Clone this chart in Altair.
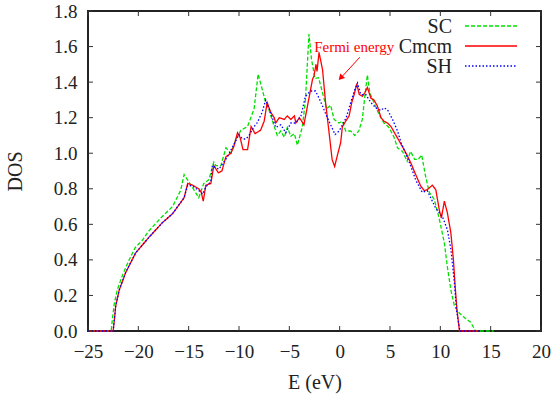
import altair as alt
import pandas as pd

# ---- data ----
sc_x = [-25, -22.7, -22.55, -22.4, -22.1, -21.6, -21.0, -20.3, -19.6, -19.0, -17.7, -16.6, -15.8, -15.45,
        -15.0, -14.6, -14.0, -13.5, -13.0, -12.5, -12.3, -11.8, -11.3, -10.8, -10.3, -9.8, -9.15, -8.5,
        -8.1, -7.7, -7.35, -7.0, -6.5, -6.2, -5.85, -5.5, -5.2, -4.85, -4.5, -4.2, -3.7, -3.4, -3.05,
        -2.8, -2.45, -2.1, -1.7, -1.3, -0.9, -0.55, -0.06, 0.27, 0.6, 1.1, 1.5, 1.9, 2.25, 2.5, 2.75,
        3.0, 3.4, 3.9, 4.4, 4.9, 5.4, 5.75, 6.25, 6.7, 7.05, 7.45, 7.8, 8.15, 8.5, 8.9, 9.4, 9.9, 10.4,
        10.7, 11.05, 11.4, 11.9, 12.5, 13.0, 13.5, 15.3]
sc_y = [0.0, 0.0, 0.08, 0.15, 0.23, 0.31, 0.39, 0.47, 0.51, 0.56, 0.64, 0.70, 0.79, 0.88,
        0.84, 0.805, 0.75, 0.83, 0.85, 0.95, 0.93, 0.93, 1.03, 1.00, 1.08, 1.13, 1.15, 1.25,
        1.445, 1.36, 1.285, 1.24, 1.15, 1.10, 1.125, 1.09, 1.145, 1.095, 1.11, 1.045, 1.15, 1.30, 1.67,
        1.53, 1.42, 1.425, 1.34, 1.25, 1.27, 1.19, 1.17, 1.18, 1.125, 1.125, 1.10, 1.125, 1.19, 1.32, 1.44,
        1.34, 1.285, 1.22, 1.17, 1.145, 1.09, 1.03, 1.01, 0.955, 1.01, 0.965, 0.965, 0.99, 0.88, 0.78, 0.74,
        0.63, 0.495, 0.36, 0.23, 0.14, 0.10, 0.07, 0.05, 0.0, 0.0]

cm_x = [-25, -22.5, -22.35, -22.25, -21.9, -21.25, -20.26, -18.9, -17.6, -16.6, -15.45, -15.1, -14.6,
        -14.0, -13.75, -13.55, -13.3, -12.8, -12.5, -12.05, -11.7, -11.3, -10.8, -10.5, -10.15, -9.9,
        -9.6, -9.15, -8.8, -8.4, -7.85, -7.5, -7.2, -6.85, -6.5, -6.35, -6.0, -5.5, -5.2, -4.85, -4.5,
        -4.35, -4.0, -3.55, -3.2, -2.7, -2.55, -2.35, -2.25, -2.05, -1.7, -1.4, -1.05, -0.75, -0.5,
        -0.24, 0.1, 0.27, 0.6, 0.94, 1.2, 1.44, 1.7, 1.95, 2.25, 2.5, 2.75, 3.1, 3.4, 3.75, 4.1, 4.4,
        4.75, 5.1, 5.6, 6.1, 6.6, 7.07, 7.55, 8.05, 8.4, 8.7, 9.2, 9.55, 9.9, 10.1, 10.4, 10.7, 11.05,
        11.3, 11.5, 11.65, 11.9, 13.8]
cm_y = [0.0, 0.0, 0.08, 0.14, 0.23, 0.33, 0.44, 0.53, 0.61, 0.66, 0.75, 0.83, 0.82,
        0.80, 0.78, 0.73, 0.82, 0.83, 0.93, 0.89, 0.90, 0.98, 1.00, 1.04, 1.115, 1.09,
        1.02, 1.02, 1.15, 1.11, 1.13, 1.18, 1.285, 1.23, 1.20, 1.17, 1.20, 1.19, 1.21, 1.19, 1.21,
        1.17, 1.20, 1.16, 1.265, 1.415, 1.435, 1.50, 1.46, 1.567, 1.47, 1.285, 1.115, 0.965, 0.925,
        0.985, 1.06, 1.15, 1.18, 1.21, 1.285, 1.33, 1.39, 1.33, 1.32, 1.34, 1.37, 1.31, 1.30, 1.265, 1.20, 1.18,
        1.17, 1.15, 1.10, 1.05, 1.00, 0.945, 0.88, 0.815, 0.79, 0.795, 0.82, 0.795, 0.68, 0.635, 0.73, 0.665, 0.55,
        0.40, 0.23, 0.12, 0.0, 0.0]

sh_x = [-25, -22.5, -22.35, -22.25, -21.9, -21.25, -20.26, -18.9, -17.6, -16.6, -15.45, -15.1, -14.6,
        -14.0, -13.6, -13.3, -12.8, -12.65, -12.0, -11.15, -10.5, -10.0, -9.65, -9.3, -9.0, -8.5, -8.2,
        -7.7, -7.35, -7.0, -6.35, -5.85, -5.35, -4.85, -4.35, -3.85, -3.4, -2.9, -2.4, -2.05, -1.7,
        -1.3, -0.9, -0.45, -0.05, 0.27, 0.65, 1.1, 1.45, 1.77, 2.1, 2.6, 3.1, 3.6, 4.1, 4.4, 4.75,
        5.25, 5.75, 6.1, 6.55, 7.05, 7.55, 8.2, 8.7, 9.55, 10.2, 10.7, 11.05, 11.4, 11.6, 11.95, 13.8]
sh_y = [0.0, 0.0, 0.08, 0.14, 0.23, 0.33, 0.44, 0.53, 0.61, 0.66, 0.75, 0.82, 0.815,
        0.79, 0.77, 0.81, 0.84, 0.93, 0.91, 0.98, 1.05, 1.105, 1.08, 1.08, 1.10, 1.15, 1.17,
        1.23, 1.30, 1.25, 1.145, 1.16, 1.115, 1.17, 1.17, 1.21, 1.32, 1.35, 1.35, 1.31, 1.265,
        1.21, 1.16, 1.105, 1.125, 1.16, 1.20, 1.285, 1.35, 1.395, 1.33, 1.33, 1.285, 1.255, 1.24, 1.255, 1.245,
        1.19, 1.125, 1.06, 1.00, 0.93, 0.85, 0.78, 0.79, 0.69, 0.645, 0.57, 0.46, 0.27, 0.12, 0.0, 0.0]

series = ["SC", "Cmcm", "SH"]
colors = ["#00e000", "#ff0000", "#0000ff"]
dashes = [[4, 2], [1, 0], [1.5, 2]]

x_ticks = [-25, -20, -15, -10, -5, 0, 5, 10, 15, 20]
y_ticks = [0.0, 0.2, 0.4, 0.6, 0.8, 1.0, 1.2, 1.4, 1.6, 1.8]

arrow_x = [2.0, 0.25]
arrow_y = [1.54, 1.432]
head_x = [0.1]
head_y = [1.424]
note_x = [-2.53]
note_y = [1.567]

# ---- build table ----
rows = []
for name, xs, ys in [("SC", sc_x, sc_y), ("Cmcm", cm_x, cm_y), ("SH", sh_x, sh_y)]:
    for i, (a, b) in enumerate(zip(xs, ys)):
        rows.append({"series": name, "E": a, "DOS": b, "i": i})
df = pd.DataFrame(rows)

W, H = 453, 320
FONT = "Liberation Serif, Times New Roman, serif"
TXT = "#222222"

xscale = alt.Scale(domain=[-25, 20], nice=False, zero=False)
yscale = alt.Scale(domain=[0, 1.8], nice=False, zero=False)

common_axis = dict(grid=False, domain=False, tickSize=0, labelPadding=11,
                   labelFontSize=19, titleFontSize=20, labelFont=FONT, titleFont=FONT,
                   titleFontWeight="normal", labelColor=TXT, titleColor=TXT, labelFlush=False)
xaxis = alt.Axis(values=x_ticks, format="d", title="E (eV)", titlePadding=11, **common_axis)
yaxis = alt.Axis(values=y_ticks, format=".1f", title="DOS", titlePadding=28, **common_axis)


def X(field):
    return alt.X(field, type="quantitative", scale=xscale, axis=xaxis)


def Y(field):
    return alt.Y(field, type="quantitative", scale=yscale, axis=yaxis)


lines = alt.Chart(df).mark_line(strokeWidth=1.3).encode(
    x=X("E"),
    y=Y("DOS"),
    color=alt.Color("series:N", scale=alt.Scale(domain=series, range=colors), legend=None),
    strokeDash=alt.StrokeDash("series:N", scale=alt.Scale(domain=series, range=dashes), legend=None),
    order=alt.Order("i:Q"),
    detail="series:N",
)

xt = pd.DataFrame({"E": x_ticks})
yt = pd.DataFrame({"DOS": y_ticks})
tick_style = dict(color="#333333", strokeWidth=1)
xb = alt.Chart(xt).mark_rule(**tick_style).encode(x=X("E"), y=alt.value(H), y2=alt.value(H - 5))
xtp = alt.Chart(xt).mark_rule(**tick_style).encode(x=X("E"), y=alt.value(0), y2=alt.value(5))
yl = alt.Chart(yt).mark_rule(**tick_style).encode(y=Y("DOS"), x=alt.value(0), x2=alt.value(5))
yr = alt.Chart(yt).mark_rule(**tick_style).encode(y=Y("DOS"), x=alt.value(W - 5), x2=alt.value(W))

# arrow annotation
adf = pd.DataFrame({"E": arrow_x, "DOS": arrow_y, "k": [0, 1]})
arrow_line = alt.Chart(adf).mark_line(color="#ff0000", strokeWidth=1).encode(
    x=X("E"), y=Y("DOS"), order="k:Q")
hdf = pd.DataFrame({"E": head_x, "DOS": head_y})
head = alt.Chart(hdf).mark_point(shape="triangle-up", filled=True, color="#ff0000",
                                 size=45, angle=223, opacity=1, strokeWidth=0).encode(
    x=X("E"), y=Y("DOS"))
ndf = pd.DataFrame({"E": note_x, "DOS": note_y, "label": ["Fermi energy"]})
note = alt.Chart(ndf).mark_text(font=FONT, fontSize=15, color="#ff0000", align="left",
                                baseline="alphabetic").encode(
    x=X("E"), y=Y("DOS"), text="label:N")

# legend (top-right, gnuplot style)
leg_layers = []
for k, name in enumerate(series):
    ty = 22 + 20 * k
    ly = 15 + 20 * k
    ldf = pd.DataFrame({"name": [name]})
    leg_layers.append(alt.Chart(ldf).mark_text(font=FONT, fontSize=20, color=TXT, align="right",
                                               baseline="alphabetic").encode(
        x=alt.value(364), y=alt.value(ty), text="name:N"))
    leg_layers.append(alt.Chart(ldf).mark_rule(color=colors[k], strokeDash=dashes[k],
                                               strokeWidth=1.3).encode(
        x=alt.value(377), x2=alt.value(429), y=alt.value(ly)))

chart = alt.layer(lines, xb, xtp, yl, yr, arrow_line, head, note, *leg_layers).properties(
    width=W, height=H,
    autosize=alt.AutoSizeParams(type="none"),
    padding={"left": 88, "top": 11, "right": 14, "bottom": 67},
).configure(
    font=FONT, background="white"
).configure_view(
    stroke="#222222", strokeWidth=2
).configure_axis(**common_axis)

chart.save("out.html", embed_options={"renderer": "svg", "actions": False})
